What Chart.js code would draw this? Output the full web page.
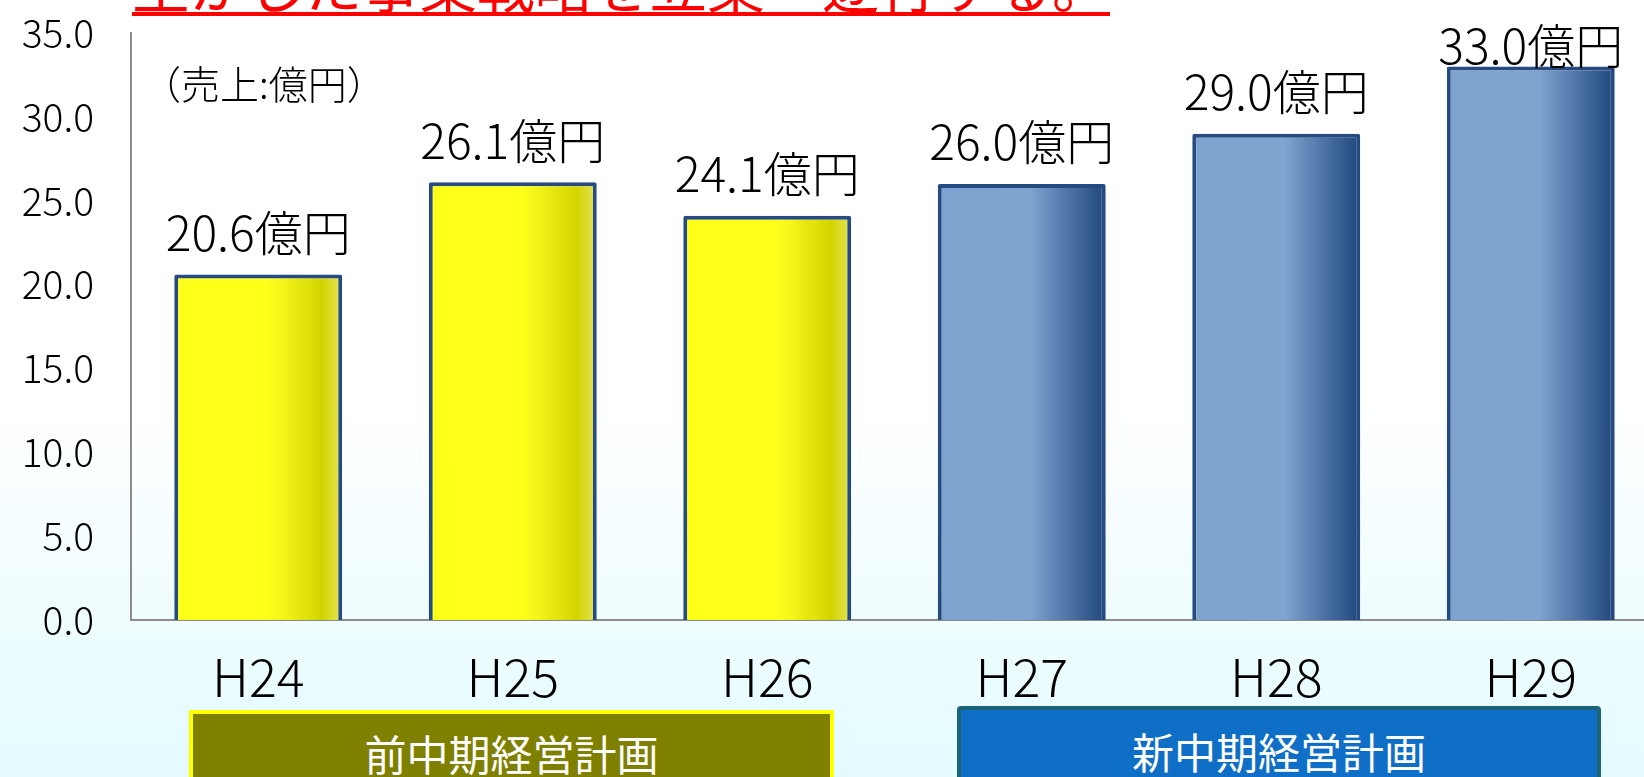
<!DOCTYPE html>
<html>
<head>
<meta charset="utf-8">
<script src="https://cdn.jsdelivr.net/npm/chart.js@4/dist/chart.umd.min.js"></script>
<style>
  html, body { margin:0; padding:0; width:1644px; height:777px; overflow:hidden; }
  body { position:relative; background: linear-gradient(180deg, #ffffff 0%, #ffffff 52%, #e3fbff 100%); font-family: "Noto Sans CJK JP", "Noto Sans", sans-serif; font-weight:300; }
  #c { position:absolute; left:0; top:0; }
  .title { position:absolute; left:132px; top:-45px; font-size:57.5px; line-height:57.5px; color:#ff0000; white-space:nowrap; font-weight:400; }
  .uline { position:absolute; left:132px; top:12px; width:978px; height:4px; background:#ff0000; }
  .unit { position:absolute; left:142px; top:60px; font-size:39px; line-height:44px; color:#000; white-space:nowrap; }
  .box { position:absolute; box-sizing:border-box; color:#fff; font-size:42px; text-align:center; white-space:nowrap; font-weight:400; }
  .box1 { left:189px; top:710px; width:645px; height:100px; background:#808000; border:4px solid #ffff00; line-height:78px; }
  .box2 { left:957px; top:706px; width:644px; height:100px; background:#0f6ec6; border:4px solid #1c6578; border-radius:4px; line-height:82px; }
</style>
</head>
<body>
<div class="title">生かした事業戦略を立案・遂行する。</div>
<div class="uline"></div>
<canvas id="c" width="1660" height="777"></canvas>
<div class="unit">（売上:億円）</div>
<div class="box box1">前中期経営計画</div>
<div class="box box2">新中期経営計画</div>
<script>
const categories = ["H24", "H25", "H26", "H27", "H28", "H29"];
const sales = [20.6, 26.1, 24.1, 26.0, 29.0, 33.0];
const planGroup = ["prev", "prev", "prev", "new", "new", "new"];
const yTicks = [0, 5, 10, 15, 20, 25, 30, 35];
const valueSuffix = "億円";

const BAR_PCT = 0.66;
function barGradient(ctx) {
  const chart = ctx.chart;
  const xs = chart.scales.x;
  if (!chart.chartArea || !xs) return '#ffff1a';
  const i = ctx.dataIndex;
  const cx = xs.getPixelForValue(i);
  const w = (xs.width / categories.length) * BAR_PCT;
  const g = chart.ctx.createLinearGradient(cx - w / 2, 0, cx + w / 2, 0);
  if (planGroup[i] === "prev") {
    g.addColorStop(0, '#ffff1a');
    g.addColorStop(0.55, '#ffff1a');
    g.addColorStop(0.65, '#f4f41a');
    g.addColorStop(0.88, '#d3d300');
    g.addColorStop(1, '#e4e45a');
  } else {
    g.addColorStop(0, '#7fa3cf');
    g.addColorStop(0.55, '#80a4d0');
    g.addColorStop(0.72, '#5a7fb0');
    g.addColorStop(1, '#1f477b');
  }
  return g;
}

const labelPlugin = {
  id: 'valueLabels',
  afterDatasetsDraw(chart) {
    const c = chart.ctx;
    const meta = chart.getDatasetMeta(0);
    c.save();
    c.font = '300 48px "Noto Sans CJK JP"';
    c.fillStyle = '#000';
    c.textAlign = 'center';
    c.textBaseline = 'middle';
    meta.data.forEach((bar, i) => {
      const y = Math.max(bar.y - 42, 46);
      c.fillText(sales[i].toFixed(1) + valueSuffix, bar.x, y);
    });
    c.restore();
  }
};

new Chart(document.getElementById('c'), {
  type: 'bar',
  data: {
    labels: categories,
    datasets: [{
      data: sales,
      backgroundColor: barGradient,
      borderColor: '#264b80',
      borderWidth: 4,
      borderRadius: 2,
      barPercentage: BAR_PCT,
      categoryPercentage: 1.0
    }]
  },
  options: {
    responsive: false,
    animation: false,
    devicePixelRatio: 1,
    layout: { padding: { left: 0, top: 33, right: 2, bottom: 0 } },
    plugins: { legend: { display: false }, tooltip: { enabled: false } },
    scales: {
      x: {
        grid: { display: false, drawTicks: false },
        border: { display: true, color: '#8c8c8c', width: 2 },
        ticks: { color: '#000', font: { family: 'Noto Sans CJK JP', size: 52, weight: 300 }, padding: 26, maxRotation: 0 },
        afterFit(axis) { axis.height = 157; }
      },
      y: {
        min: 0, max: 35,
        afterBuildTicks(axis) { axis.ticks = yTicks.map(v => ({ value: v })); },
        grid: { display: false, drawTicks: false },
        border: { display: true, color: '#8c8c8c', width: 2 },
        ticks: {
          color: '#000',
          font: { family: 'Noto Sans CJK JP', size: 39, weight: 300 },
          padding: 37,
          callback: v => Number(v).toFixed(1)
        },
        afterFit(axis) { axis.width = 131; axis.paddingTop = 10; axis.paddingBottom = 10; }
      }
    }
  },
  plugins: [labelPlugin]
});
</script>
</body>
</html>
